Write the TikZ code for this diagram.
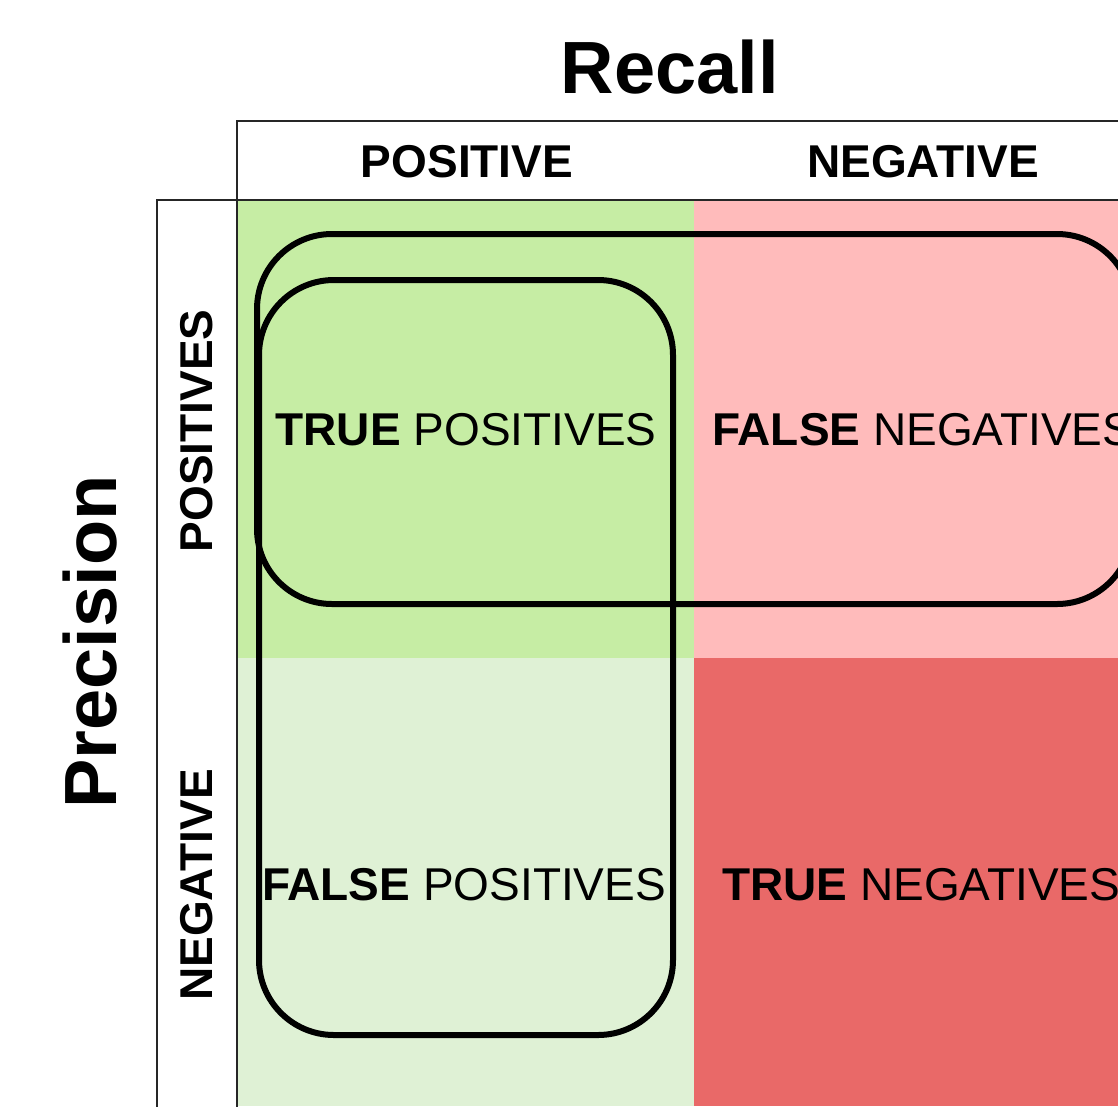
\documentclass[tikz,border=0pt]{standalone}
\usepackage{fontspec}
\setmainfont{Liberation Sans}
\definecolor{tpgreen}{HTML}{C6EDA4}
\definecolor{fpgreen}{HTML}{DFF1D5}
\definecolor{fnpink}{HTML}{FFBBBB}
\definecolor{tnred}{HTML}{E96968}
\tikzset{
  cell/.style={font=\fontsize{46}{50}\selectfont, inner sep=0pt, anchor=base},
  hdr/.style={font=\fontsize{46}{50}\selectfont\bfseries, inner sep=0pt, anchor=base},
  title/.style={font=\fontsize{74}{80}\selectfont\bfseries, inner sep=0pt, anchor=base},
  frame/.style={draw=black!85, line width=2.5pt},
  loop/.style={draw=black, line width=6pt, rounded corners=75pt},
}
\begin{document}
\begin{tikzpicture}[x=1pt,y=-1pt]
\useasboundingbox (0,0) rectangle (1118,1106);
\begin{scope}
\clip (0,0) rectangle (1118,1106);
% quadrants
\fill[tpgreen] (237,200) rectangle (694,658);
\fill[fpgreen] (237,658) rectangle (694,1106);
\fill[fnpink] (694,200) rectangle (1118,658);
\fill[tnred] (694,658) rectangle (1118,1106);
% frames
\draw[frame] (237,1110) -- (237,121) -- (1122,121);
\draw[frame] (157,1110) -- (157,200) -- (1122,200);
% titles
\node[title] (recall) at (670,93) {Recall};
\node[title, rotate=90] (precision) at (116,642) {Precision};
% headers
\node[hdr] (hpos) at (467,177) {POSITIVE};
\node[hdr] (hneg) at (923,177) {NEGATIVE};
\node[hdr, rotate=90] (vpos) at (212,431) {POSITIVES};
\node[hdr, rotate=90] (vneg) at (212,885) {NEGATIVE};
% cells
\node[cell] (tp) at (466,445) {\textbf{TRUE} POSITIVES};
\node[cell, anchor=base west] (fn) at (712,445) {\textbf{FALSE} NEGATIVES};
\node[cell] (fp) at (464,900) {\textbf{FALSE} POSITIVES};
\node[cell, anchor=base west] (tn) at (722,900) {\textbf{TRUE} NEGATIVES};
% loops
\draw[loop] (257,234) rectangle (1132,604);
\draw[loop] (259,280) rectangle (673,1035);
\end{scope}
\end{tikzpicture}
\end{document}
